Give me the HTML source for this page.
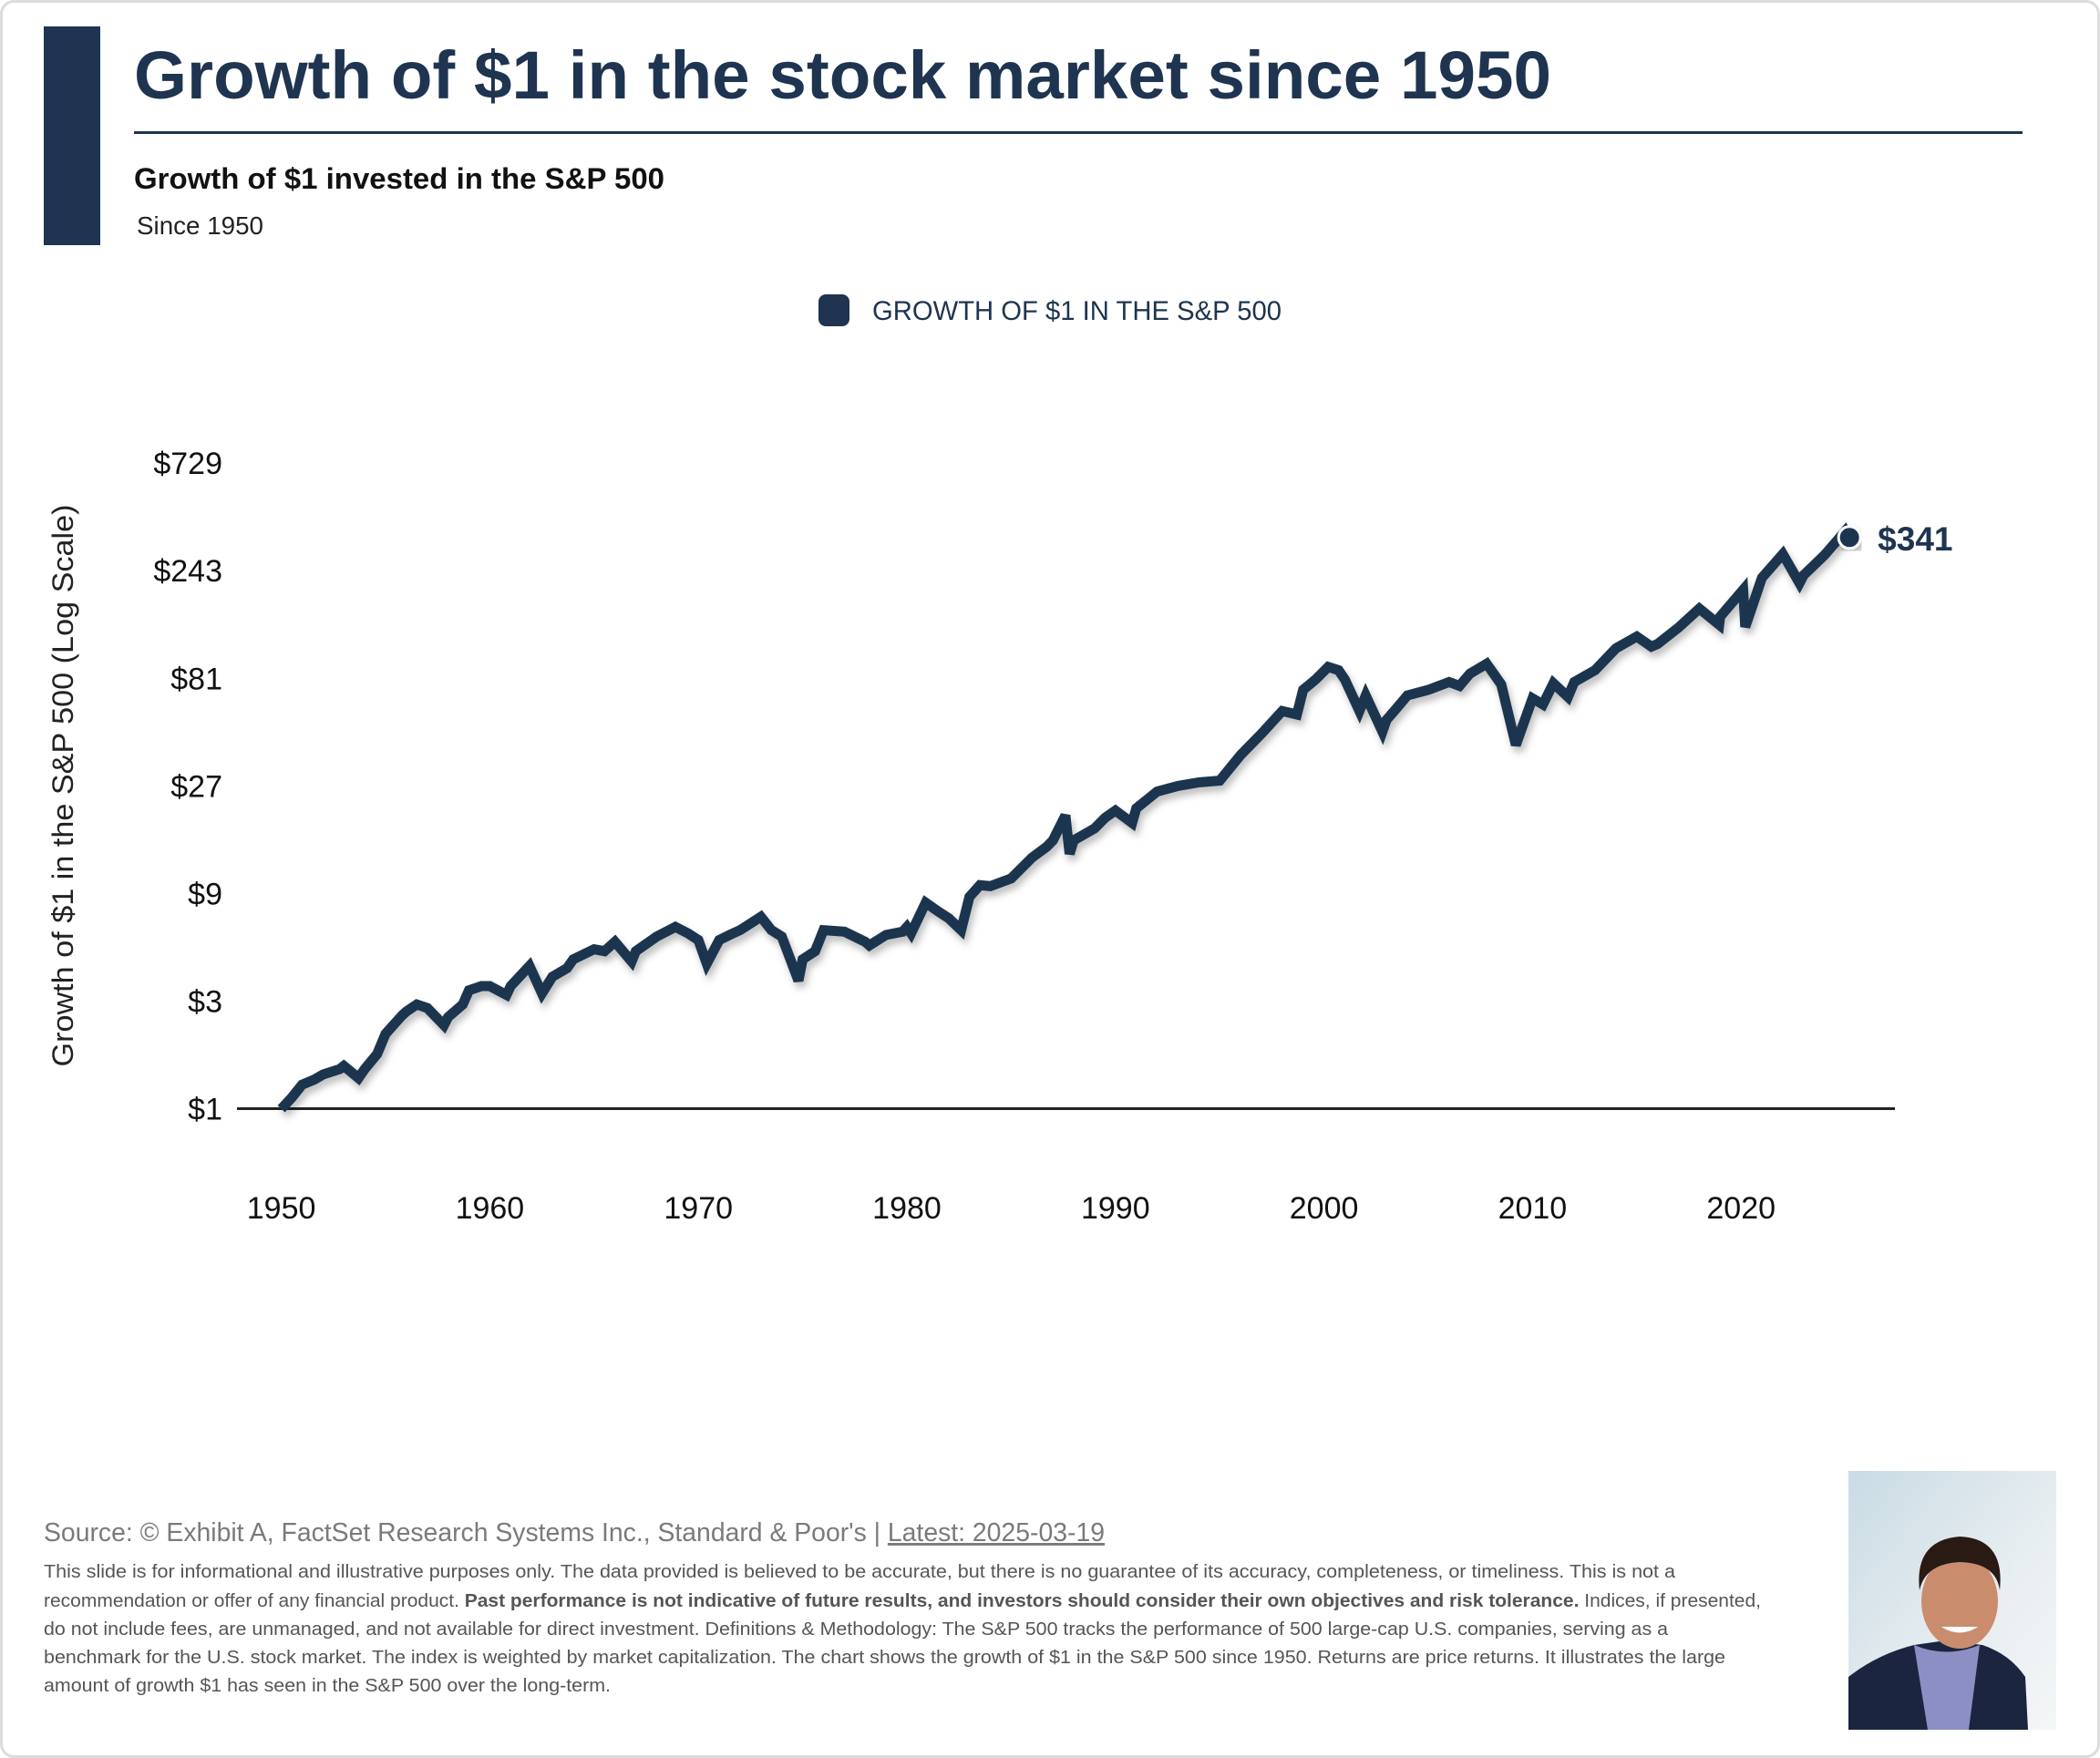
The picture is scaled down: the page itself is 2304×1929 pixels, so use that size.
<!DOCTYPE html>
<html><head><meta charset="utf-8">
<style>
html,body{margin:0;padding:0;background:#fff;}
svg{display:block;}
text{font-family:"Liberation Sans",sans-serif;}
</style></head>
<body>
<svg id="root" width="2304" height="1929" viewBox="0 0 2304 1929" xmlns="http://www.w3.org/2000/svg">
<defs>
<filter id="shadow" x="-5%" y="-5%" width="110%" height="115%">
<feDropShadow dx="3" dy="6" stdDeviation="4" flood-color="#000" flood-opacity="0.25"/>
</filter>
<linearGradient id="bg" x1="0" y1="0" x2="1" y2="1">
<stop offset="0" stop-color="#c9dbe4"/><stop offset="0.6" stop-color="#e8eef1"/><stop offset="1" stop-color="#f4f6f7"/>
</linearGradient>
</defs>
<rect x="1.5" y="1.5" width="2301" height="1926" rx="14" fill="#fff" stroke="#dcdcdc" stroke-width="3"/>
<rect x="48" y="29" width="62" height="240" fill="#1e3450"/>
<text x="147" y="108" font-size="74" font-weight="bold" fill="#1e3450" textLength="1555" lengthAdjust="spacingAndGlyphs">Growth of $1 in the stock market since 1950</text>
<rect x="147" y="144" width="2072" height="3" fill="#1e3450"/>
<text x="147" y="207" font-size="32" font-weight="bold" fill="#111" textLength="582" lengthAdjust="spacingAndGlyphs">Growth of $1 invested in the S&amp;P 500</text>
<text x="150" y="257" font-size="28" fill="#222" textLength="139" lengthAdjust="spacingAndGlyphs">Since 1950</text>

<g>
<rect x="898" y="323" width="34" height="35" rx="8" fill="#1e3450"/>
<text x="957" y="351" font-size="30" fill="#1e3450" textLength="449" lengthAdjust="spacingAndGlyphs">GROWTH OF $1 IN THE S&amp;P 500</text>
</g>

<text transform="translate(80,862) rotate(-90)" text-anchor="middle" font-size="32" fill="#222" textLength="617" lengthAdjust="spacingAndGlyphs">Growth of $1 in the S&amp;P 500 (Log Scale)</text>

<g id="yticks"></g>
<g id="xticks"></g>
<rect x="260" y="1215" width="1819" height="3" fill="#222"/>
<g id="series"></g>

<text x="48" y="1691" font-size="29" fill="#7a7a7a" textLength="1164" lengthAdjust="spacingAndGlyphs">Source: © Exhibit A, FactSet Research Systems Inc., Standard &amp; Poor's | <tspan text-decoration="underline">Latest: 2025-03-19</tspan></text>
<g font-size="20.5" fill="#555">
<text x="48" y="1731" textLength="1790" lengthAdjust="spacingAndGlyphs">This slide is for informational and illustrative purposes only. The data provided is believed to be accurate, but there is no guarantee of its accuracy, completeness, or timeliness. This is not a</text>
<text x="48" y="1763" textLength="1884" lengthAdjust="spacingAndGlyphs">recommendation or offer of any financial product. <tspan font-weight="bold">Past performance is not indicative of future results, and investors should consider their own objectives and risk tolerance.</tspan> Indices, if presented,</text>
<text x="48" y="1794" textLength="1782" lengthAdjust="spacingAndGlyphs">do not include fees, are unmanaged, and not available for direct investment. Definitions &amp; Methodology: The S&amp;P 500 tracks the performance of 500 large-cap U.S. companies, serving as a</text>
<text x="48" y="1825" textLength="1845" lengthAdjust="spacingAndGlyphs">benchmark for the U.S. stock market. The index is weighted by market capitalization. The chart shows the growth of $1 in the S&amp;P 500 since 1950. Returns are price returns. It illustrates the large</text>
<text x="48" y="1856" textLength="622" lengthAdjust="spacingAndGlyphs">amount of growth $1 has seen in the S&amp;P 500 over the long-term.</text>
</g>

<g>
<rect x="2028" y="1614" width="228" height="284" fill="url(#bg)"/>
<path d="M2028 1898 L2028 1840 Q2060 1815 2100 1805 L2135 1800 L2175 1805 Q2205 1815 2222 1840 L2225 1898 Z" fill="#1b2540"/>
<path d="M2100 1805 L2115 1898 L2160 1898 L2172 1805 Q2135 1820 2100 1805 Z" fill="#8c8fc4"/>
<ellipse cx="2150" cy="1757" rx="42" ry="52" fill="#c98d6e"/>
<path d="M2106 1745 Q2100 1690 2150 1686 Q2200 1688 2194 1745 Q2190 1715 2150 1714 Q2112 1716 2106 1745 Z" fill="#2a1a14"/>
<path d="M2130 1785 Q2150 1798 2170 1785 Z" fill="#fff"/>
</g>

<script>
// Data (years, growth of $1 values)
const years = [1950,1950.5,1951,1951.6,1952,1952.8,1953,1953.7,1954,1954.6,1955,1955.8,1956,1956.5,1957,1957.8,1958,1958.7,1959,1959.6,1960,1960.8,1961,1961.9,1962.5,1963,1963.7,1964,1965,1965.5,1966,1966.8,1967,1968,1968.9,1969.5,1970,1970.4,1971,1971.5,1972,1973,1973.5,1974,1974.8,1975,1975.6,1976,1977,1978,1978.2,1979,1979.8,1980,1980.2,1980.9,1981.5,1982,1982.6,1983,1983.5,1984,1985,1986,1986.7,1987,1987.6,1987.8,1988,1989,1989.5,1990,1990.8,1991,1992,1993,1994,1995,1996,1997,1998,1998.7,1999,1999.6,2000.2,2000.7,2001,2001.7,2002,2002.8,2003,2003.5,2004,2005,2006,2006.5,2007,2007.8,2008.5,2009.2,2010,2010.5,2011,2011.7,2012,2013,2014,2015,2015.7,2016,2017,2018,2018.95,2019,2020.1,2020.2,2021,2022,2022.8,2023,2024,2024.6,2025,2025.2];
const values = [1.0,1.12,1.28,1.35,1.42,1.5,1.55,1.37,1.5,1.75,2.15,2.6,2.7,2.9,2.8,2.35,2.55,2.9,3.35,3.5,3.5,3.2,3.5,4.3,3.25,3.85,4.2,4.6,5.1,5.0,5.5,4.5,5.0,5.8,6.4,6.0,5.6,4.4,5.6,5.9,6.2,7.1,6.2,5.8,3.7,4.6,5.0,6.2,6.1,5.5,5.3,5.9,6.1,6.4,6.0,8.2,7.5,7.0,6.2,8.7,9.8,9.7,10.5,13.0,14.5,15.5,20.0,13.5,15.5,17.5,19.5,21.0,18.5,21.5,25.5,27.0,28.0,28.5,37.0,46.0,58.0,56.0,72.0,80.0,91.0,88.0,80.0,58.0,68.0,47.0,53.0,60.0,68.0,72.0,78.0,75.0,85.0,94.0,76.0,41.0,66.0,62.0,77.0,67.0,78.0,88.0,110.0,124.0,112.0,115.0,136.0,165.0,140.0,152.0,200.0,137.0,226.0,288.0,214.0,232.0,285.0,330.0,365.0,341.0];
const yTickValues = [1,3,9,27,81,243,729];
const yTickLabels = ["$1","$3","$9","$27","$81","$243","$729"];
const xTicks = [1950,1960,1970,1980,1990,2000,2010,2020];
const endLabel = "$341";

const NS = "http://www.w3.org/2000/svg";
function xScale(yr){ return 308.6 + (yr - 1950) * 22.88; }
function yScale(v){ return 1216.7 - Math.log(v) / Math.log(3) * 118.1; }

const yt = document.getElementById('yticks');
yTickValues.forEach((v,i)=>{
  const t = document.createElementNS(NS,'text');
  t.setAttribute('x', 244);
  t.setAttribute('y', yScale(v) + 12);
  t.setAttribute('text-anchor','end');
  t.setAttribute('font-size','34');
  t.setAttribute('fill','#111');
  t.textContent = yTickLabels[i];
  
  
  yt.appendChild(t);
});
const xt = document.getElementById('xticks');
xTicks.forEach(yr=>{
  const t = document.createElementNS(NS,'text');
  t.setAttribute('x', xScale(yr));
  t.setAttribute('y', 1337);
  t.setAttribute('text-anchor','middle');
  t.setAttribute('font-size','34');
  t.setAttribute('fill','#111');
  t.textContent = String(yr);
  
  
  xt.appendChild(t);
});

const s = document.getElementById('series');
let d = '';
years.forEach((yr,i)=>{ d += (i ? 'L' : 'M') + xScale(yr).toFixed(1) + ' ' + yScale(values[i]).toFixed(1); });
const p = document.createElementNS(NS,'path');
p.setAttribute('d', d);
p.setAttribute('fill','none');
p.setAttribute('stroke','#1e3450');
p.setAttribute('stroke-width','11');
p.setAttribute('stroke-linejoin','miter');
p.setAttribute('stroke-miterlimit','3');
p.setAttribute('filter','url(#shadow)');


s.appendChild(p);

const li = years.length - 1;
const c = document.createElementNS(NS,'circle');
c.setAttribute('cx', xScale(years[li]));
c.setAttribute('cy', yScale(values[li]));
c.setAttribute('r', 12);
c.setAttribute('fill','#1e3450');
c.setAttribute('stroke','#fff');
c.setAttribute('stroke-width','3');
c.setAttribute('filter','url(#shadow)');


s.appendChild(c);

const lbl = document.createElementNS(NS,'text');
lbl.setAttribute('x', xScale(years[li]) + 31);
lbl.setAttribute('y', yScale(values[li]) + 14);
lbl.setAttribute('font-size','37');
lbl.setAttribute('font-weight','bold');
lbl.setAttribute('fill','#1e3450');
lbl.textContent = endLabel;


s.appendChild(lbl);
</script>
</svg>
</body></html>
